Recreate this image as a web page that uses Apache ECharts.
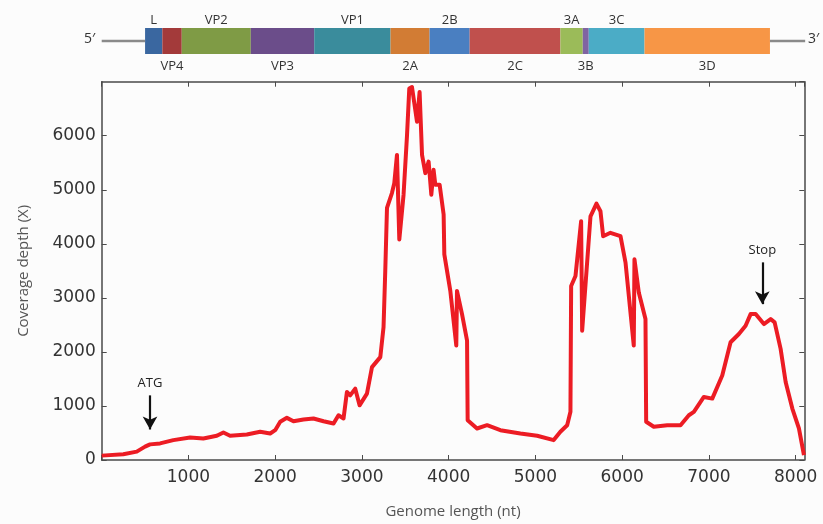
<!DOCTYPE html>
<html><head><meta charset="utf-8">
<script src="https://cdn.jsdelivr.net/npm/echarts@6/dist/echarts.min.js"></script>
<style>html,body{margin:0;padding:0;background:#fcfcfc}#c{width:823px;height:524px}</style>
</head><body><div id="c"></div>
<script>
// ---- coverage data (nt position, depth) ----
const positions = [0,249,404,500,557,673,826,1019,1172,1327,1403,1480,1673,1827,1942,2000,2058,2135,2211,2326,
 2442,2557,2673,2730,2788,2827,2865,2923,2973,3058,3116,3212,3249,3269,3289,3346,3373,3404,3431,3480,
 3520,3546,3577,3635,3665,3693,3731,3769,3800,3826,3846,3896,3942,3950,4019,4088,4096,4154,4212,4219,
 4327,4443,4596,4827,5020,5211,5288,5366,5404,5412,5462,5527,5539,5635,5704,5750,5781,5865,5981,6039,
 6134,6142,6192,6269,6277,6365,6520,6673,6769,6827,6942,7039,7154,7250,7346,7423,7481,7539,7634,7712,
 7758,7827,7885,7962,8038,8096];
const coverage = [81,105,155,247,289,307,368,418,399,449,510,449,473,523,491,552,707,780,718,749,
 768,718,675,828,768,1259,1196,1320,1012,1228,1719,1903,2455,3497,4664,4940,5124,5645,4081,4909,
 6013,6873,6902,6258,6810,5645,5308,5522,4909,5369,5093,5093,4541,3805,3129,2117,3129,2700,2209,736,
 583,644,552,491,449,368,523,644,891,3221,3405,4417,2393,4509,4743,4602,4141,4204,4141,3652,
 2117,3713,3100,2608,707,615,644,644,828,891,1167,1136,1565,2179,2332,2485,2700,2700,2516,2608,
 2547,2056,1443,952,583,92];
// ---- axes ----
const xMin = 0, xMax = 8100, xStep = 1000;
const yMin = 0, yMax = 7000, yStep = 1000;
// ---- genome map ----
const segNames = ['L','VP4','VP2','VP3','VP1','2A','2B','2C','3A','3B','3C','3D'];
const segStart = [500,699,923,1719,2450,3330,3780,4242,5288,5546,5615,6258];
const segEnd   = [699,923,1719,2450,3330,3780,4242,5288,5546,5615,6258,7704];
const segColors = ['#3a67a0','#a33a3a','#7f9b45','#6b4d8a','#3a8c9c','#d27c34','#4a7fc1','#c0504d','#9bbb59','#8064a2','#4bacc6','#f79646'];
const utr5 = [0,500], utr3 = [7704,8110];
// ---- annotations ----
const atgPos = 557, atgFrom = 1196, atgTo = 565;
const stopPos = 7616, stopFrom = 3657, stopTo = 2884;

const chart = echarts.init(document.getElementById('c'));
const axisCol = '#4a4a4a';
const grid = {left:101.7, right:18.7, top:81.7, bottom:62.3};
const tickFont = {fontFamily:'DejaVu Sans', fontSize:17, color:'#333'};
const line = {show:true, onZero:false, lineStyle:{color:axisCol, width:1.5}};
const tick = {show:true, inside:true, length:5, lineStyle:{color:axisCol}};
chart.setOption({
  animation:false,
  backgroundColor:'#fcfcfc',
  grid:[grid, {left:101.7, right:18.7, top:28, height:26}],
  xAxis:[
    {type:'value', gridIndex:0, min:xMin, max:xMax, interval:xStep,
     axisLine:line, axisTick:tick, splitLine:{show:false},
     axisLabel:Object.assign({margin:9, showMaxLabel:false, formatter:v=> (v>0 && v%xStep===0)? String(v):''}, tickFont),
     name:'Genome length (nt)', nameLocation:'middle', nameGap:44,
     nameTextStyle:{fontFamily:'Open Sans', fontSize:15, color:'#555'}},
    {type:'value', gridIndex:0, position:'top', min:xMin, max:xMax, interval:xStep,
     axisLine:line, axisTick:tick, axisLabel:{show:false}, splitLine:{show:false}},
    {type:'value', gridIndex:1, min:xMin, max:xMax, show:false}
  ],
  yAxis:[
    {type:'value', gridIndex:0, min:yMin, max:yMax, interval:yStep,
     axisLine:line, axisTick:tick, splitLine:{show:false},
     axisLabel:Object.assign({margin:6, showMaxLabel:false, formatter:v=> v<yMax ? String(v):''}, tickFont),
     name:'Coverage depth (X)', nameLocation:'middle', nameGap:70,
     nameTextStyle:{fontFamily:'Open Sans', fontSize:15, color:'#555'}},
    {type:'value', gridIndex:0, position:'right', min:yMin, max:yMax, interval:yStep,
     axisLine:line, axisTick:tick, axisLabel:{show:false}, splitLine:{show:false}},
    {type:'value', gridIndex:1, min:0, max:1, show:false}
  ],
  series:[
    {type:'line', xAxisIndex:0, yAxisIndex:0, showSymbol:false,
     data:positions.map((p,i)=>[p,coverage[i]]),
     lineStyle:{color:'#ec1c24', width:4, join:'round'},
     markLine:{silent:true, symbol:['none','arrow'], symbolSize:[11,13],
       lineStyle:{color:'#111', width:2.2, type:'solid'},
       label:{show:true, position:'start', distance:6, fontFamily:'Open Sans', fontSize:13, color:'#222', formatter:p=>p.name},
       data:[
         [{name:'ATG', coord:[atgPos,atgFrom]},{coord:[atgPos,atgTo]}],
         [{name:'Stop', coord:[stopPos,stopFrom]},{coord:[stopPos,stopTo]}]
       ]}
    },
    {type:'line', xAxisIndex:2, yAxisIndex:2, showSymbol:false, silent:true,
     data:[[utr5[0],0.5],[utr5[1],0.5],null,[utr3[0],0.5],[utr3[1],0.5]],
     connectNulls:false, lineStyle:{color:'#8a8a8a', width:2.5}},
    {type:'custom', xAxisIndex:2, yAxisIndex:2, silent:true,
     data:segNames.map((n,i)=>[segStart[i],segEnd[i]]),
     renderItem:function(params, api){
       const i = params.dataIndex;
       const s = api.coord([api.value(0),1]);
       const e = api.coord([api.value(1),0]);
       const top = s[1], bot = e[1];
       return {type:'group', children:[
         {type:'rect', shape:{x:s[0], y:top, width:e[0]-s[0], height:bot-top}, style:{fill:segColors[i]}},
         {type:'text', style:{text:segNames[i], x:(s[0]+e[0])/2, y:(i%2===0)? top-8 : bot+12,
           align:'center', verticalAlign:'middle', fill:'#333', font:'13px "Open Sans"'}}
       ]};
     }}
  ],
  graphic:[
    {type:'text', left:84, top:32, style:{text:'5′', font:'14px "Open Sans"', fill:'#333'}},
    {type:'text', left:808, top:32, style:{text:'3′', font:'14px "Open Sans"', fill:'#333'}}
  ]
});
</script></body></html>
